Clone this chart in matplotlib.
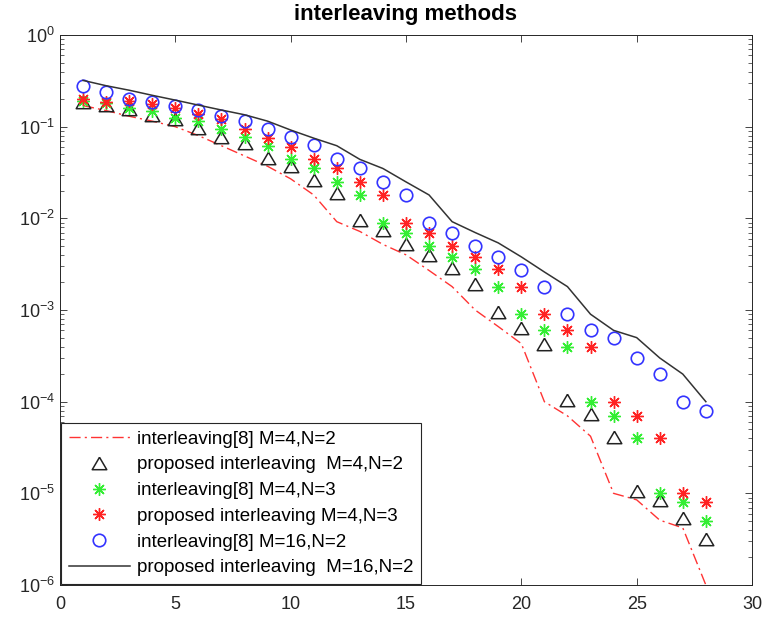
import numpy as np
import matplotlib.pyplot as plt

plt.rcParams['font.family'] = ['Liberation Sans', 'DejaVu Sans']
plt.rcParams['mathtext.default'] = 'regular'

# SNR index and BER curves of the six configurations
snr = np.arange(1, 29)

ref_m4n2 = [0.17, 0.15, 0.13, 0.115, 0.1, 0.08, 0.062, 0.048, 0.037, 0.027,
            0.018, 0.0092, 0.0072, 0.0052, 0.004, 0.0027, 0.0018, 0.001, 0.00066, 0.00043,
            0.0001, 7e-5, 4.2e-5, 1e-5, 8.5e-6, 5.1e-6, 4.2e-6, 1e-6]
prop_m4n2 = [0.185, 0.172, 0.155, 0.134, 0.12, 0.096, 0.078, 0.066, 0.045, 0.037,
             0.026, 0.019, 0.0096, 0.0075, 0.0053, 0.004, 0.0029, 0.0019, 0.00094, 0.00063,
             0.00043, 0.000105, 7.4e-5, 4.1e-5, 1.07e-5, 8.5e-6, 5.4e-6, 3.2e-6]
ref_m4n3 = [0.19, 0.18, 0.16, 0.15, 0.125, 0.116, 0.094, 0.077, 0.062, 0.044,
            0.035, 0.025, 0.018, 0.009, 0.007, 0.005, 0.0038, 0.0028, 0.0018, 0.0009,
            0.0006, 0.0004, 0.0001, 7e-5, 4e-5, 1e-5, 8e-6, 5e-6]
prop_m4n3 = [0.2, 0.185, 0.19, 0.175, 0.16, 0.138, 0.12, 0.094, 0.075, 0.06,
             0.044, 0.035, 0.025, 0.018, 0.009, 0.007, 0.005, 0.0038, 0.0028, 0.0018,
             0.0009, 0.0006, 0.0004, 0.0001, 7e-5, 4e-5, 1e-5, 8e-6]
ref_m16n2 = [0.28, 0.24, 0.2, 0.185, 0.168, 0.152, 0.132, 0.116, 0.094, 0.077,
             0.063, 0.044, 0.035, 0.025, 0.018, 0.009, 0.007, 0.005, 0.0038, 0.0027,
             0.0018, 0.0009, 0.0006, 0.0005, 0.0003, 0.0002, 0.0001, 8e-5]
prop_m16n2 = [0.32, 0.28, 0.25, 0.22, 0.195, 0.172, 0.152, 0.135, 0.115, 0.092,
              0.075, 0.062, 0.044, 0.035, 0.025, 0.018, 0.0092, 0.007, 0.0054, 0.0038,
              0.0026, 0.0018, 0.0009, 0.0006, 0.0005, 0.0003, 0.0002, 0.0001]

labels = ['interleaving[8] M=4,N=2',
          'proposed interleaving  M=4,N=2',
          'interleaving[8] M=4,N=3',
          'proposed interleaving M=4,N=3',
          'interleaving[8] M=16,N=2',
          'proposed interleaving  M=16,N=2']

xticks = [0, 5, 10, 15, 20, 25, 30]
yticks = [1e-6, 1e-5, 1e-4, 1e-3, 1e-2, 1e-1, 1]

asterisk = (8, 2, 0)
wide_tri = [(0, 0.85), (-1, -0.85), (1, -0.85), (0, 0.85)]
axcol = '#262626'

fig = plt.figure(figsize=(7.65, 6.19), dpi=100)
ax = fig.add_axes([0.0784, 0.0549, 0.9046, 0.8885])

ax.semilogy(snr, ref_m4n2, color='#ff3333', lw=1.0, ls=(0, (8, 3, 1.5, 3)), label=labels[0])
ax.semilogy(snr, prop_m4n2, ls='none', marker=wide_tri, ms=10.5, mfc='none',
            mec='#222222', mew=1.1, label=labels[1])
ax.semilogy(snr, ref_m4n3, ls='none', marker=asterisk, ms=9, mec='#33ee33',
            mew=1.0, label=labels[2])
ax.semilogy(snr, prop_m4n3, ls='none', marker=asterisk, ms=9, mec='#ff2222',
            mew=1.0, label=labels[3])
ax.semilogy(snr, ref_m16n2, ls='none', marker='o', ms=9, mfc='none',
            mec='#3333ff', mew=1.2, label=labels[4])
ax.semilogy(snr, prop_m16n2, color='#333333', lw=1.1, label=labels[5])

ax.set_xlim(0, 30)
ax.set_ylim(1e-6, 1)
ax.set_xticks(xticks)
ax.set_yticks(yticks)
ax.tick_params(which='both', direction='in', top=True, right=True,
               color=axcol, labelsize=13, labelcolor=axcol)
ax.tick_params(which='major', length=5, width=0.6)
ax.tick_params(which='minor', length=3, width=0.5)
ax.tick_params(axis='x', pad=8)
for sp in ax.spines.values():
    sp.set_color(axcol)
    sp.set_linewidth(0.7)

ax.set_title('interleaving methods', fontsize=16, fontweight='bold', pad=11)

leg = ax.legend(loc='lower left', bbox_to_anchor=(0.0015, 0.002), borderaxespad=0,
                fontsize=13.5, fancybox=False, framealpha=1, edgecolor=axcol,
                handlelength=3.3, handletextpad=0.35, labelspacing=0.46,
                borderpad=0.4)
leg.get_frame().set_linewidth(0.8)

fig.savefig('out.png', dpi=100)
